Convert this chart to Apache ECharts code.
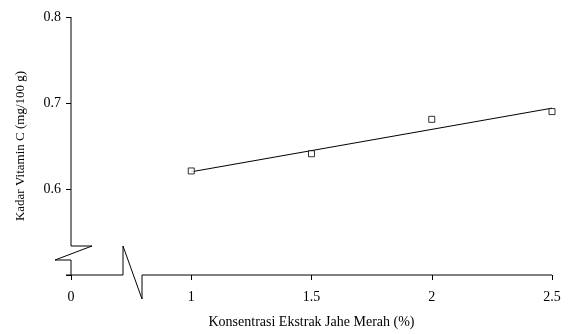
<!DOCTYPE html>
<html>
<head>
<meta charset="utf-8">
<script src="https://cdn.jsdelivr.net/npm/echarts@6/dist/echarts.min.js"></script>
<style>
  html, body { margin: 0; padding: 0; background: #fff; }
  #chart { width: 569px; height: 334px; }
</style>
</head>
<body>
<div id="chart"></div>
<script>
// data
const konsentrasi = [1, 1.5, 2, 2.5];
const vitaminC = [0.621, 0.641, 0.681, 0.690];
// fitted line as drawn (end points)
const trendX = [1, 2.5];
const trendY = [0.620, 0.694];
// x axis is broken: the slot at 0.5 is labelled "0"
const xTickLabels = { '0.5': '0', '1': '1', '1.5': '1.5', '2': '2', '2.5': '2.5' };
const yTickLabels = { '0.6': '0.6', '0.7': '0.7', '0.8': '0.8' };

const font = 'Liberation Serif';
const chart = echarts.init(document.getElementById('chart'));

const option = {
  animation: false,
  grid: { left: 71, right: 17, top: 17, bottom: 56 },
  xAxis: {
    type: 'value',
    min: 0.5, max: 2.5, interval: 0.5,
    name: 'Konsentrasi Ekstrak Jahe Merah (%)',
    nameLocation: 'middle',
    nameGap: 40,
    nameTextStyle: { fontFamily: font, fontSize: 14, color: '#000' },
    axisLine: { show: false },
    axisTick: { show: true, length: 5, lineStyle: { color: '#000' } },
    axisLabel: {
      margin: 15, fontFamily: font, fontSize: 14, color: '#000',
      formatter: v => xTickLabels[String(v)] || ''
    },
    splitLine: { show: false }
  },
  yAxis: {
    type: 'value',
    min: 0.5, max: 0.8, interval: 0.1,
    name: 'Kadar Vitamin C (mg/100 g)',
    nameLocation: 'middle',
    nameGap: 44,
    nameTextStyle: { fontFamily: font, fontSize: 13, color: '#000' },
    axisLine: { show: false },
    axisTick: { show: true, length: 5, lineStyle: { color: '#000' } },
    axisLabel: {
      margin: 10, fontFamily: font, fontSize: 14, color: '#000',
      formatter: v => yTickLabels[(Math.round(v * 10) / 10).toString()] || ''
    },
    splitLine: { show: false }
  },
  series: [
    {
      type: 'line',
      data: trendX.map((x, i) => [x, trendY[i]]),
      symbol: 'none',
      lineStyle: { color: '#000', width: 1 },
      z: 2
    },
    {
      type: 'scatter',
      data: konsentrasi.map((x, i) => [x, vitaminC[i]]),
      symbol: 'rect',
      symbolSize: 6,
      itemStyle: { color: '#fff', borderColor: '#000', borderWidth: 1 },
      z: 3
    }
  ]
};
chart.setOption(option);

// axis lines with break marks, placed from the axis scales
const origin = chart.convertToPixel({ gridIndex: 0 }, [0.5, 0.5]);
const yTop = chart.convertToPixel({ gridIndex: 0 }, [0.5, 0.8])[1];
const xRight = chart.convertToPixel({ gridIndex: 0 }, [2.5, 0.5])[0];
const ox = origin[0], oy = origin[1];
chart.setOption({
  graphic: [
    {
      type: 'polyline',
      shape: { points: [[ox, yTop], [ox, oy - 29], [ox + 21, oy - 29], [ox - 16, oy - 15], [ox, oy - 15], [ox, oy]] },
      style: { stroke: '#000', lineWidth: 1, fill: null }
    },
    {
      type: 'polyline',
      shape: { points: [[ox - 5, oy], [ox + 52, oy], [ox + 52, oy - 29], [ox + 71, oy + 24], [ox + 71, oy], [xRight, oy]] },
      style: { stroke: '#000', lineWidth: 1, fill: null }
    }
  ]
});
</script>
</body>
</html>
